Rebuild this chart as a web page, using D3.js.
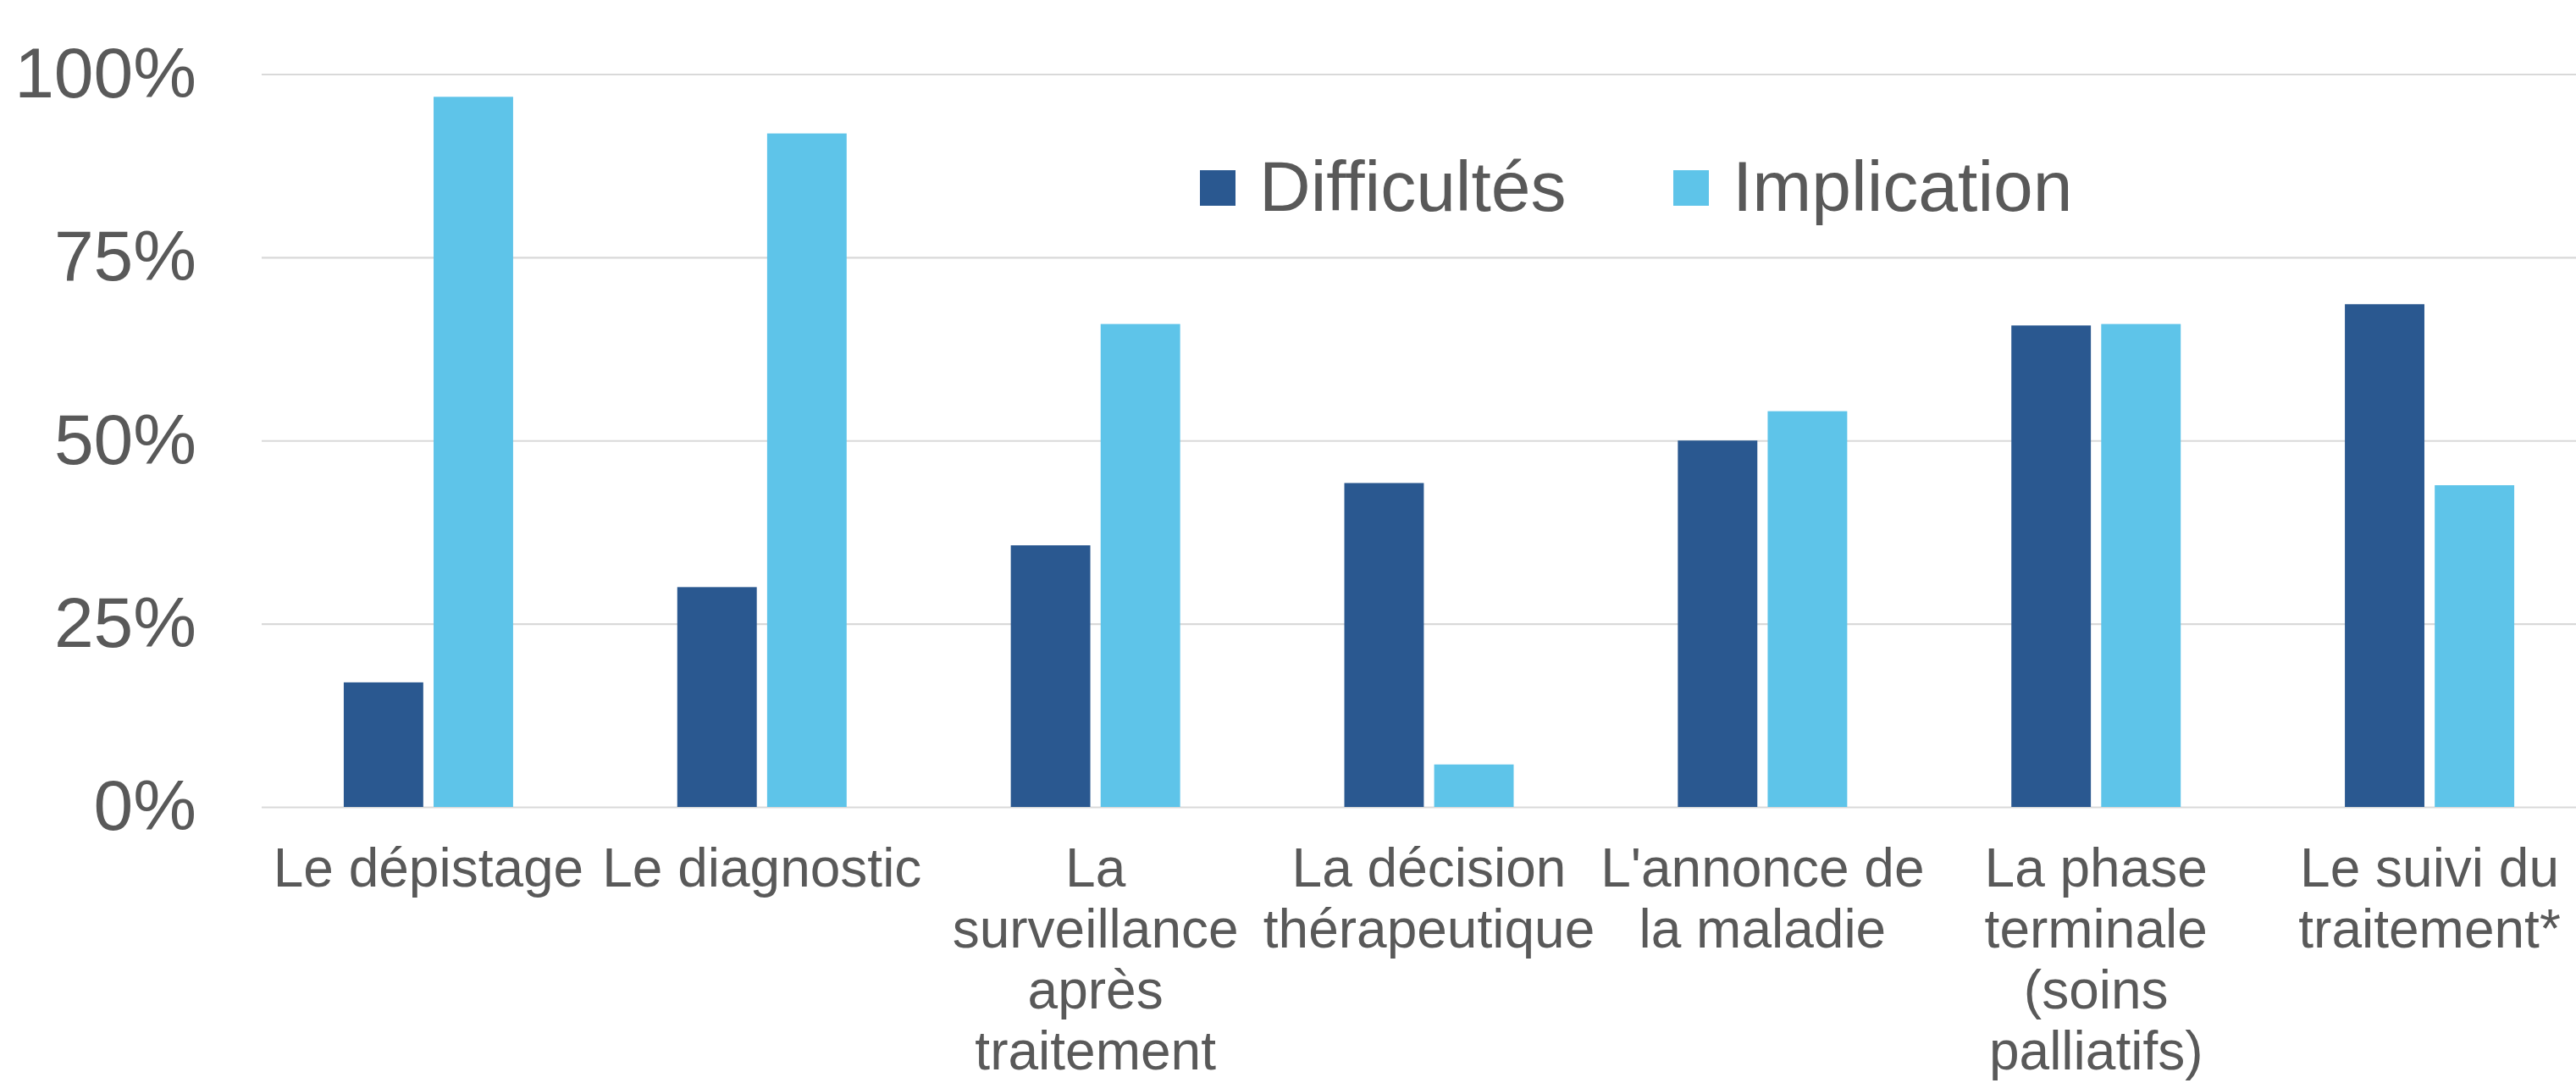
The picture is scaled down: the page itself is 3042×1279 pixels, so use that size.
<!DOCTYPE html>
<html>
<head>
<meta charset="utf-8">
<script src="https://cdn.jsdelivr.net/npm/d3@7"></script>
<style>
  html, body { margin: 0; padding: 0; background: #ffffff; overflow: hidden; }
  svg { display: block; font-family: "Liberation Sans", Arial, sans-serif; }
</style>
</head>
<body>
<svg id="chart" width="3042" height="1279"></svg>
<script>
// ---- data ----
const categories = [
  "Le dépistage",
  "Le diagnostic",
  "La\nsurveillance\naprès\ntraitement",
  "La décision\nthérapeutique",
  "L'annonce de\nla maladie",
  "La phase\nterminale\n(soins\npalliatifs)",
  "Le suivi du\ntraitement*"
];
const seriesNames = ["Difficultés", "Implication"];
const difficultes = [0.170, 0.300, 0.357, 0.442, 0.500, 0.657, 0.686];
const implication = [0.969, 0.919, 0.659, 0.058, 0.540, 0.659, 0.439];
const yTicks = [0, 0.25, 0.5, 0.75, 1];
const colors = ["#2A5890", "#5EC4E9"];

const seriesValues = [difficultes, implication];

// ---- layout ----
const svg = d3.select("#chart");
const plot = { left: 309, right: 3066, top: 87.5, bottom: 953 };

const x = d3.scaleBand()
  .domain(categories)
  .range([plot.left, plot.right])
  .paddingInner(0)
  .paddingOuter(0);

const groupWidth = 200;
const x1 = d3.scaleBand()
  .domain(seriesNames)
  .range([x.bandwidth() / 2 - groupWidth / 2, x.bandwidth() / 2 + groupWidth / 2])
  .paddingInner(0.115);

const y = d3.scaleLinear().domain([0, 1]).range([plot.bottom, plot.top]);

// gridlines
const grid = svg.append("g")
  .attr("transform", `translate(${plot.left},0)`)
  .call(d3.axisLeft(y).tickValues(yTicks).tickSize(-(plot.right - plot.left)).tickFormat(""));
grid.select(".domain").remove();
grid.selectAll("line").attr("stroke", "#D9D9D9").attr("stroke-width", 2.2);

// y axis labels
const yAxis = svg.append("g")
  .attr("transform", `translate(${plot.left},0)`)
  .call(d3.axisLeft(y).tickValues(yTicks).tickSize(0).tickPadding(77).tickFormat(d3.format(".0%")));
yAxis.select(".domain").remove();
yAxis.selectAll("text")
  .attr("fill", "#595959")
  .attr("font-size", 84)
  .attr("font-family", "'Liberation Sans', Arial, sans-serif");

// bars
const groups = svg.append("g").selectAll("g")
  .data(categories)
  .join("g")
  .attr("transform", d => `translate(${x(d)},0)`);

groups.selectAll("rect")
  .data((d, i) => seriesNames.map((s, j) => ({ s, v: seriesValues[j][i], j })))
  .join("rect")
  .attr("x", d => x1(d.s))
  .attr("width", x1.bandwidth())
  .attr("y", d => y(d.v))
  .attr("height", d => y(0) - y(d.v))
  .attr("fill", d => colors[d.j]);

// x axis labels
const lineHeight = 72;
const xLabels = svg.append("g").selectAll("text")
  .data(categories)
  .join("text")
  .attr("x", d => x(d) + x.bandwidth() / 2)
  .attr("y", 1047)
  .attr("text-anchor", "middle")
  .attr("fill", "#595959")
  .attr("font-size", 64);
xLabels.selectAll("tspan")
  .data(d => d.split("\n"))
  .join("tspan")
  .attr("x", function() { return this.parentNode.getAttribute("x"); })
  .attr("dy", (d, i) => i === 0 ? 0 : lineHeight)
  .text(d => d);

// legend
const legendX = [1417, 1976];
const legend = svg.append("g").selectAll("g")
  .data(seriesNames)
  .join("g")
  .attr("transform", (d, i) => `translate(${legendX[i]},201)`);
legend.append("rect")
  .attr("width", 42).attr("height", 42)
  .attr("fill", (d, i) => colors[i]);
legend.append("text")
  .attr("x", 70)
  .attr("y", 48)
  .attr("fill", "#595959")
  .attr("font-size", 84)
  .text(d => d);
</script>
</body>
</html>
